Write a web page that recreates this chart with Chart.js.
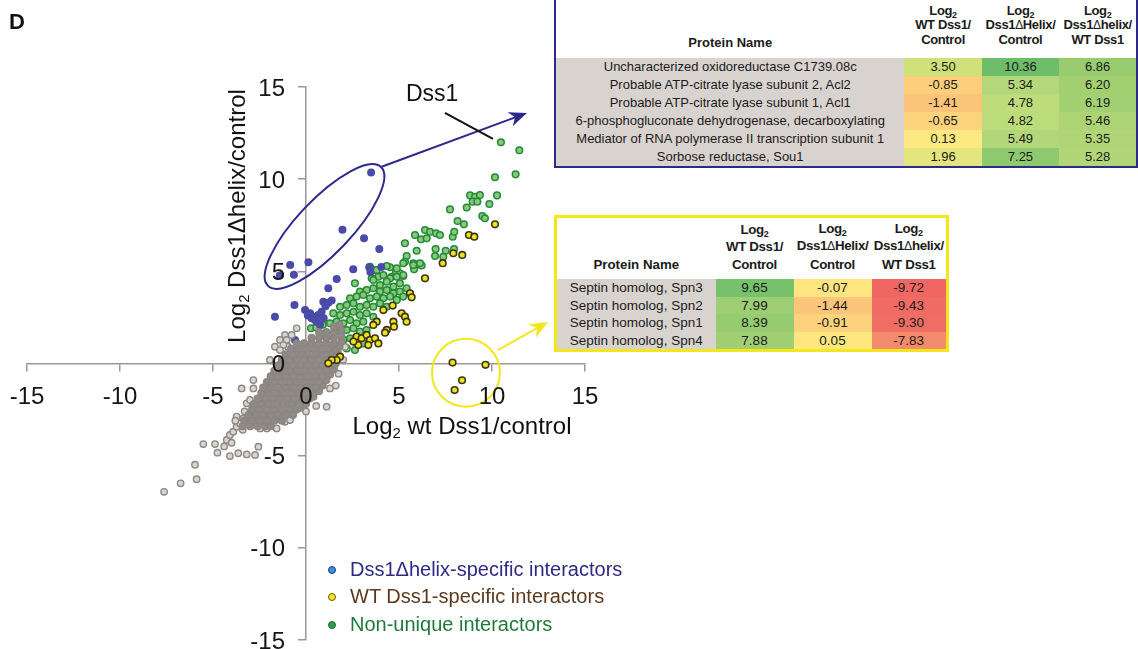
<!DOCTYPE html>
<html>
<head>
<meta charset="utf-8">
<script src="https://cdn.jsdelivr.net/npm/chart.js@4.4.1/dist/chart.umd.min.js"></script>
<style>
body { margin: 0; background: #fff; font-family: "Liberation Sans", Arial, sans-serif; }
#wrap { position: relative; width: 1138px; height: 649px; overflow: hidden; }
#wrap canvas { position: absolute; left: 0; top: 0; }
.lbl { position: absolute; white-space: nowrap; color: #111; }
sub.s { font-size: 62%; line-height: 0; vertical-align: -0.28em; }
span.dl { font-weight: normal; font-size: 92%; }
table.tbl { position: absolute; border-collapse: collapse; table-layout: fixed; background: #fff; color: #1b1b1b; }
table.tbl th { font-weight: bold; vertical-align: bottom; text-align: center; padding: 0; white-space: nowrap; letter-spacing: -0.35px; }
table.tbl th:first-child { letter-spacing: 0; }
table.tbl td { text-align: center; padding: 0; white-space: nowrap; }
table.tbl td.name { background: #d8d3cf; }
#tblTop { left: 554px; top: -2px; border: 2px solid #2e2a88; }
#tblTop th { height: 47px; padding-bottom: 11px; line-height: 14.3px; font-size: 13px; }
#tblTop th:first-child { height: 50px; padding-bottom: 8px; }
#tblTop td { height: 18px; line-height: 18px; font-size: 13px; }
#tblTop th sub.s { font-size: 9px; }
#tblYel { left: 554px; top: 215px; border: 3px solid #f3e71b; }
#tblYel th { height: 55px; padding-bottom: 6px; line-height: 17.3px; font-size: 13.3px; }
#tblYel td { height: 17.6px; line-height: 17.6px; font-size: 13.5px; }
#tblYel th sub.s { font-size: 9px; }
#legend { position: absolute; left: 326px; top: 556px; font-size: 20px; line-height: 27.3px; }
#legend div { position: relative; padding-left: 24px; white-space: nowrap; }
#legend span.dot { position: absolute; left: 2px; top: 10px; width: 6px; height: 6px; border-radius: 50%; border: 1.3px solid; }
</style>
</head>
<body>
<div id="wrap">
  <canvas id="chart" width="1138" height="649"></canvas>
  <div class="lbl" style="left:9px; top:11px; font-size:22px; font-weight:bold; line-height:22px;">D</div>
  <div class="lbl" style="left:406px; top:82px; font-size:23px; line-height:23px;">Dss1</div>
  <div class="lbl" style="left:312px; top:411px; width:300px; text-align:center; font-size:24px; line-height:30px;">Log<sub class="s">2</sub> wt Dss1/control</div>
  <div class="lbl" style="left:87px; top:201px; width:300px; height:30px; text-align:center; font-size:24px; line-height:30px; transform:rotate(-90deg);">Log<sub class="s">2</sub> Dss1&Delta;helix/control</div>
  <table id="tblTop" class="tbl"></table>
  <table id="tblYel" class="tbl"></table>
  <div id="legend">
    <div style="color:#2e2a86"><span class="dot" style="background:#2b9be0; border-color:#2d2d7a"></span>Dss1&Delta;helix-specific interactors</div>
    <div style="color:#5b3a1c"><span class="dot" style="background:#f6e51d; border-color:#6b5510"></span>WT Dss1-specific interactors</div>
    <div style="color:#1f7a3a"><span class="dot" style="background:#2f9e4f; border-color:#1b6b33"></span>Non-unique interactors</div>
  </div>
</div>
<script>
// tables
const topProteins = [
  'Uncharacterized oxidoreductase C1739.08c',
  'Probable ATP-citrate lyase subunit 2, Acl2',
  'Probable ATP-citrate lyase subunit 1, Acl1',
  '6-phosphogluconate dehydrogenase, decarboxylating',
  'Mediator of RNA polymerase II transcription subunit 1',
  'Sorbose reductase, Sou1'
];
const topWt = [3.50, -0.85, -1.41, -0.65, 0.13, 1.96];
const topHelix = [10.36, 5.34, 4.78, 4.82, 5.49, 7.25];
const topRatio = [6.86, 6.20, 6.19, 5.46, 5.35, 5.28];

const septins = ['Septin homolog, Spn3', 'Septin homolog, Spn2', 'Septin homolog, Spn1', 'Septin homolog, Spn4'];
const septWt = [9.65, 7.99, 8.39, 7.88];
const septHelix = [-0.07, -1.44, -0.91, 0.05];
const septRatio = [-9.72, -9.43, -9.30, -7.83];

// heat-map cell colours, column by column
const topColors = [
  ['#cfe07b', '#fdcf7b', '#fbc479', '#fdd47d', '#fde882', '#e4e57f'],
  ['#6dbd6b', '#b4d879', '#bedc7b', '#bcdb7a', '#b1d779', '#8fc96f'],
  ['#98cc6f', '#a2d071', '#a3d072', '#acd475', '#afd576', '#b0d677']
];
const septColors = [
  ['#77c06c', '#9ece73', '#96cb71', '#a0cf73'],
  ['#fee580', '#fbc679', '#fcd27c', '#fee781'],
  ['#ef6662', '#ef6b63', '#f06d63', '#f38b6c']
];

// scatter points [log2 wt/control, log2 helix/control]
const helixOther = [
  [3.12, 6.79], [3.94, 6.21], [2.54, 5.11], [3.40, 5.22], [4.05, 5.24], [3.46, 4.96], [1.65, 4.58],
  [1.20, 4.08], [0.93, 3.35], [1.20, 3.30], [1.38, 3.42], [-0.62, 3.17], [-0.05, 2.90], [0.22, 2.72],
  [0.40, 2.54], [0.66, 2.63], [0.84, 2.81], [0.57, 2.27], [0.75, 2.09], [0.48, 2.36], [-1.67, 2.54],
  [-0.59, 1.28], [0.30, 2.45], [0.95, 2.45], [1.05, 3.10], [0.10, 2.60]
];
const wtOther = [
  [10.16, 7.55], [8.76, 6.97], [9.05, 6.88], [7.92, 5.98], [8.40, 5.89], [7.35, 5.44], [6.40, 4.62],
  [5.59, 3.81], [5.68, 3.59], [4.16, 2.90], [4.66, 3.14], [5.14, 2.72], [5.32, 2.54], [5.41, 2.27],
  [3.80, 2.27], [3.62, 2.09], [4.70, 2.27], [4.73, 2.00], [4.34, 1.82], [4.25, 1.67], [2.72, 1.46],
  [2.99, 1.37], [3.26, 1.55], [3.44, 1.28], [3.71, 1.37], [3.89, 1.09], [3.35, 1.00], [2.81, 1.00],
  [2.55, 1.19], [1.83, 0.37], [1.65, 0.19], [1.38, 0.19], [1.20, 0.01]
];
const shared = [
  [10.48, 12.00], [11.47, 11.57], [10.16, 10.10], [11.27, 10.26], [10.27, 9.12], [8.82, 9.12],
  [9.09, 9.05], [9.35, 9.14], [8.96, 8.78], [9.21, 8.78], [8.64, 8.46], [9.86, 8.65], [7.74, 8.36],
  [9.48, 8.00], [9.62, 7.88], [8.15, 7.73], [8.49, 7.55], [6.40, 7.24], [6.67, 7.15], [6.99, 7.06],
  [7.20, 6.97], [5.86, 6.97], [6.18, 6.74], [6.49, 6.79], [7.89, 6.88], [7.97, 7.15], [5.32, 6.52],
  [5.95, 6.12], [6.97, 6.21], [7.51, 6.12], [7.96, 6.21], [5.41, 5.83], [5.32, 5.52], [5.77, 5.44],
  [6.04, 5.38], [6.22, 5.32], [6.94, 5.83], [7.38, 5.79], [5.81, 5.11], [4.52, 5.22], [4.84, 4.98],
  [5.05, 4.89], [5.23, 4.75], [3.62, 5.07], [4.60, 4.71],
  [3.44, 5.25], [3.80, 5.07], [4.34, 5.29], [4.88, 5.16], [5.23, 5.44], [5.77, 5.34], [6.13, 5.44],
  [3.53, 4.62], [3.89, 4.71], [4.16, 4.80], [4.52, 4.62], [4.88, 4.71], [5.23, 4.80],
  [2.63, 4.35], [3.62, 4.53], [3.98, 4.26], [4.34, 4.44], [4.70, 4.17], [5.05, 4.35], [5.41, 4.08],
  [2.90, 3.90], [3.26, 3.99], [3.62, 4.08], [3.98, 3.90], [4.34, 3.99], [4.70, 3.81], [5.05, 3.90],
  [2.37, 3.54], [2.72, 3.63], [3.08, 3.72], [3.44, 3.54], [3.80, 3.63], [4.16, 3.54], [4.52, 3.63],
  [4.88, 3.45], [5.23, 3.63],
  [1.83, 3.08], [2.19, 3.17], [2.55, 3.27], [2.90, 3.08], [3.26, 3.17], [3.62, 3.08], [3.98, 3.27],
  [4.34, 3.08],
  [1.47, 2.72], [1.83, 2.63], [2.19, 2.72], [2.55, 2.81], [2.90, 2.63], [3.26, 2.72], [3.62, 2.54],
  [1.29, 2.18], [1.65, 2.27], [2.01, 2.18], [2.37, 2.36], [2.72, 2.18], [3.08, 2.27],
  [1.83, 1.73], [2.19, 1.82], [2.55, 1.91], [2.90, 1.73], [3.26, 1.82],
  [2.01, 1.28], [2.37, 1.37], [3.08, 1.09], [2.19, 0.82], [2.63, 0.73],
  [0.27, 1.91], [0.55, 1.95], [0.90, 2.10], [1.00, 1.60], [1.30, 1.50]
];
// dense cloud of non-significant proteins around the origin
const bgCloud = [
  [-3.4, -3.4], [-3.0, -3.4], [-2.6, -3.4], [-2.2, -3.4], [-1.9, -3.4],
  [-3.3, -3.1], [-2.9, -3.1], [-2.5, -3.1], [-2.1, -3.1], [-1.7, -3.1], [-1.3, -3.1],
  [-3.1, -2.8], [-2.7, -2.8], [-2.3, -2.8], [-1.9, -2.8], [-1.5, -2.8], [-1.1, -2.8], [-0.7, -2.8],
  [-2.9, -2.5], [-2.5, -2.5], [-2.1, -2.5], [-1.7, -2.5], [-1.3, -2.5], [-0.9, -2.5], [-0.5, -2.5], [-0.3, -2.4],
  [-2.8, -2.2], [-2.4, -2.2], [-2.0, -2.2], [-1.6, -2.2], [-1.2, -2.2], [-0.8, -2.2], [-0.4, -2.2], [0.0, -2.2],
  [-2.6, -1.9], [-2.2, -1.9], [-1.8, -1.9], [-1.4, -1.9], [-1.0, -1.9], [-0.6, -1.9], [-0.2, -1.9], [0.2, -1.9], [0.4, -1.8],
  [-2.4, -1.6], [-2.0, -1.6], [-1.6, -1.6], [-1.2, -1.6], [-0.8, -1.6], [-0.4, -1.6], [0.0, -1.6], [0.4, -1.6], [0.7, -1.5],
  [-2.3, -1.3], [-1.9, -1.3], [-1.5, -1.3], [-1.1, -1.3], [-0.7, -1.3], [-0.3, -1.3], [0.1, -1.3], [0.5, -1.3], [0.9, -1.2],
  [-2.1, -1.0], [-1.7, -1.0], [-1.3, -1.0], [-0.9, -1.0], [-0.5, -1.0], [-0.1, -1.0], [0.3, -1.0], [0.7, -1.0], [1.1, -0.9],
  [-1.9, -0.7], [-1.5, -0.7], [-1.1, -0.7], [-0.7, -0.7], [-0.3, -0.7], [0.1, -0.7], [0.5, -0.7], [0.9, -0.7], [1.3, -0.6],
  [-1.7, -0.4], [-1.3, -0.4], [-0.9, -0.4], [-0.5, -0.4], [-0.1, -0.4], [0.3, -0.4], [0.7, -0.4], [1.1, -0.4], [1.5, -0.3],
  [-1.5, -0.1], [-1.1, -0.1], [-0.7, -0.1], [-0.3, -0.1], [0.1, -0.1], [0.5, -0.1], [0.9, -0.1], [1.3, -0.1], [1.6, 0.0],
  [-1.3, 0.2], [-0.9, 0.2], [-0.5, 0.2], [-0.1, 0.2], [0.3, 0.2], [0.7, 0.2], [1.1, 0.2], [1.5, 0.2], [1.7, 0.3],
  [-1.1, 0.5], [-0.7, 0.5], [-0.3, 0.5], [0.1, 0.5], [0.5, 0.5], [0.9, 0.5], [1.3, 0.5], [1.7, 0.6],
  [-0.8, 0.8], [-0.4, 0.8], [0.0, 0.8], [0.4, 0.8], [0.8, 0.8], [1.2, 0.8], [1.6, 0.8], [1.8, 0.9],
  [-0.5, 1.1], [-0.1, 1.1], [0.3, 1.1], [0.7, 1.1], [1.1, 1.1], [1.5, 1.1], [1.9, 1.2],
  [0.3, 1.4], [0.7, 1.4], [1.1, 1.4], [1.5, 1.4], [1.9, 1.5],
  [0.7, 1.7], [1.1, 1.7], [1.5, 1.7], [1.9, 1.8],
  [1.5, 2.0], [1.8, 2.1]
];
const bgScattered = [
  [-7.63, -6.96], [-6.74, -6.50], [-5.88, -6.28], [-5.97, -5.49], [-5.52, -4.37], [-4.89, -4.37],
  [-4.76, -4.84], [-4.09, -5.02], [-3.64, -4.87], [-3.19, -4.93], [-2.74, -4.96], [-2.56, -4.51],
  [-4.26, -4.15], [-4.09, -3.88], [-3.91, -3.70], [-3.73, -3.43], [-3.55, -3.25], [-3.28, -3.07],
  [-3.10, -2.89], [-2.83, -2.71], [-2.47, -3.52], [-2.11, -3.52], [-1.58, -3.52], [-1.13, -3.16],
  [-1.22, -2.70], [-3.46, -1.35], [-2.83, -0.90], [-2.83, -1.35], [-3.19, -2.16], [-3.01, -1.98],
  [1.11, -2.34], [1.29, -1.35], [-1.94, 0.19], [-1.67, 0.91], [-1.13, 1.55], [-1.40, 1.28],
  [-0.97, 0.91], [-0.50, 1.91], [-0.77, 1.55], [-1.04, 1.28], [-1.22, 1.00], [-1.40, 0.73],
  [-3.73, -2.88], [-3.37, -2.98], [-0.95, -2.70], [-0.86, -3.07], [-3.80, -3.10], [-4.40, -4.50],
  [-4.00, -4.30], [-3.40, -3.60], [-2.90, -3.30], [-2.20, -2.60], [-2.50, -2.20], [-3.30, -2.60],
  [1.75, -0.55], [2.00, 0.20], [2.10, 0.90], [1.60, -1.20], [0.55, -2.30], [0.00, -2.60]
];

const xTicks = [-15, -10, -5, 0, 5, 10, 15];
const yTicks = [-15, -10, -5, 0, 5, 10, 15];

// annotation anchors in data units
const ellipseEnds = [[-2.04, 4.21], [4.03, 10.66]];
const helixArrow = [[4.03, 10.66], [11.88, 13.59]];
const septCircle = [8.6, -0.5];
const septArrow = [[10.32, 0.73], [13.01, 2.25]];
const dss1Pointer = [[7.47, 13.59], [10.05, 12.18]];

const fmt = v => v.toFixed(2);

function buildTable(el, names, cols, colors, headers) {
  let html = '<colgroup>' + headers.widths.map(w => `<col style="width:${w}px">`).join('') + '</colgroup>';
  html += '<tr>' + headers.labels.map(h => `<th>${h}</th>`).join('') + '</tr>';
  names.forEach((n, i) => {
    html += `<tr><td class="name">${n}</td>` +
      cols.map((c, j) => `<td style="background:${colors[j][i]}">${fmt(c[i])}</td>`).join('') + '</tr>';
  });
  el.innerHTML = html;
}

const log2 = 'Log<sub class="s">2</sub>';
const dl = '<span class="dl">&Delta;</span>';
const headLabels = ['Protein Name', `${log2}<br>WT Dss1/<br>Control`, `${log2}<br>Dss1${dl}Helix/<br>Control`, `${log2}<br>Dss1${dl}helix/<br>WT Dss1`];
buildTable(document.getElementById('tblTop'), topProteins, [topWt, topHelix, topRatio], topColors,
  {widths: [351, 78, 78, 78], labels: headLabels});
buildTable(document.getElementById('tblYel'), septins, [septWt, septHelix, septRatio], septColors,
  {widths: [160, 78, 78, 76], labels: headLabels});

const pts = arr => arr.map(p => ({x: p[0], y: p[1]}));
const helixPts = topWt.map((v, i) => [v, topHelix[i]]).concat(helixOther);
const wtPts = septWt.map((v, i) => [v, septHelix[i]]).concat(wtOther);

function arrow(ctx, x0, y0, x1, y1, color, head) {
  const a = Math.atan2(y1 - y0, x1 - x0);
  const c = Math.cos(a), s = Math.sin(a);
  ctx.strokeStyle = color;
  ctx.fillStyle = color;
  ctx.lineWidth = 2;
  ctx.beginPath();
  ctx.moveTo(x0, y0);
  ctx.lineTo(x1 - c * head * 0.7, y1 - s * head * 0.7);
  ctx.stroke();
  ctx.beginPath();
  ctx.moveTo(x1, y1);
  ctx.lineTo(x1 - head * c + head * 0.42 * s, y1 - head * s - head * 0.42 * c);
  ctx.lineTo(x1 - head * 0.7 * c, y1 - head * 0.7 * s);
  ctx.lineTo(x1 - head * c - head * 0.42 * s, y1 - head * s + head * 0.42 * c);
  ctx.closePath();
  ctx.fill();
}

const annotate = {
  id: 'annotate',
  afterDatasetsDraw(chart) {
    const {ctx, scales: {x, y}} = chart;
    const px = p => [x.getPixelForValue(p[0]), y.getPixelForValue(p[1])];
    ctx.save();

    // ellipse round the helix-specific hits
    const [e0, e1] = ellipseEnds.map(px);
    ctx.strokeStyle = '#2b2a8c';
    ctx.lineWidth = 2;
    ctx.beginPath();
    ctx.ellipse((e0[0] + e1[0]) / 2, (e0[1] + e1[1]) / 2, Math.hypot(e1[0] - e0[0], e1[1] - e0[1]) / 2, 27,
      Math.atan2(e1[1] - e0[1], e1[0] - e0[0]), 0, Math.PI * 2);
    ctx.stroke();
    const [a0, a1] = helixArrow.map(px);
    arrow(ctx, a0[0], a0[1], a1[0], a1[1], '#2b2a8c', 18);

    // circle round the septins
    const c = px(septCircle);
    ctx.strokeStyle = '#f3e71b';
    ctx.lineWidth = 2;
    ctx.beginPath();
    ctx.arc(c[0], c[1], 34, 0, Math.PI * 2);
    ctx.stroke();
    const [s0, s1] = septArrow.map(px);
    arrow(ctx, s0[0], s0[1], s1[0], s1[1], '#f3e71b', 18);

    // Dss1 pointer
    const [d0, d1] = dss1Pointer.map(px);
    ctx.strokeStyle = '#111';
    ctx.lineWidth = 2;
    ctx.beginPath();
    ctx.moveTo(d0[0], d0[1]);
    ctx.lineTo(d1[0], d1[1]);
    ctx.stroke();

    // tick labels go on top of the points, as in the figure
    const ox = x.getPixelForValue(0), oy = y.getPixelForValue(0);
    ctx.fillStyle = '#161616';
    ctx.font = '24px "Liberation Sans", Arial, sans-serif';
    ctx.textBaseline = 'alphabetic';
    ctx.textAlign = 'center';
    xTicks.forEach(v => ctx.fillText(String(v), x.getPixelForValue(v), oy + 40));
    ctx.textAlign = 'right';
    yTicks.forEach(v => ctx.fillText(String(v), ox - 21, y.getPixelForValue(v) + 8.6));
    ctx.restore();
  }
};

const axisColor = '#9e968f';

new Chart(document.getElementById('chart'), {
  type: 'scatter',
  data: {
    datasets: [
      {label: 'WT Dss1-specific', data: pts(wtPts), order: 1,
        backgroundColor: '#ece21e', borderColor: '#3d3512', borderWidth: 1.6, pointRadius: 3.3},
      {label: 'cloud', data: pts(bgCloud), order: 2,
        backgroundColor: '#8f8a86', borderColor: '#8a8581', borderWidth: 1.3, pointRadius: 3.4},
      {label: 'scattered', data: pts(bgScattered), order: 2,
        backgroundColor: '#d8d4d0', borderColor: '#8d8884', borderWidth: 1.4, pointRadius: 3.2},
      {label: 'Dss1Δhelix-specific', data: pts(helixPts), order: 3,
        backgroundColor: '#4a4ba8', borderColor: '#4a4ba8', borderWidth: 0, pointRadius: 4},
      {label: 'Non-unique', data: pts(shared), order: 4,
        backgroundColor: '#86c97e', borderColor: '#248a35', borderWidth: 1.5, pointRadius: 3.3}
    ]
  },
  options: {
    responsive: false,
    animation: false,
    layout: {padding: {left: 27, right: 553, top: 87, bottom: 9}},
    plugins: {legend: {display: false}, tooltip: {enabled: false}},
    scales: {
      x: {
        type: 'linear', min: -15, max: 15, position: {y: 0},
        afterBuildTicks: s => { s.ticks = xTicks.map(v => ({value: v})); },
        afterFit: s => { s.height = 0; },
        ticks: {display: false},
        grid: {drawOnChartArea: false, tickLength: 7, color: axisColor, lineWidth: 1.5},
        border: {color: axisColor, width: 1.5}
      },
      y: {
        type: 'linear', min: -15, max: 15, position: {x: 0},
        afterBuildTicks: s => { s.ticks = yTicks.map(v => ({value: v})); },
        afterFit: s => { s.width = 0; },
        ticks: {display: false},
        grid: {drawOnChartArea: false, tickLength: 7, color: axisColor, lineWidth: 1.5},
        border: {color: axisColor, width: 1.5}
      }
    }
  },
  plugins: [annotate]
});
</script>
</body>
</html>
